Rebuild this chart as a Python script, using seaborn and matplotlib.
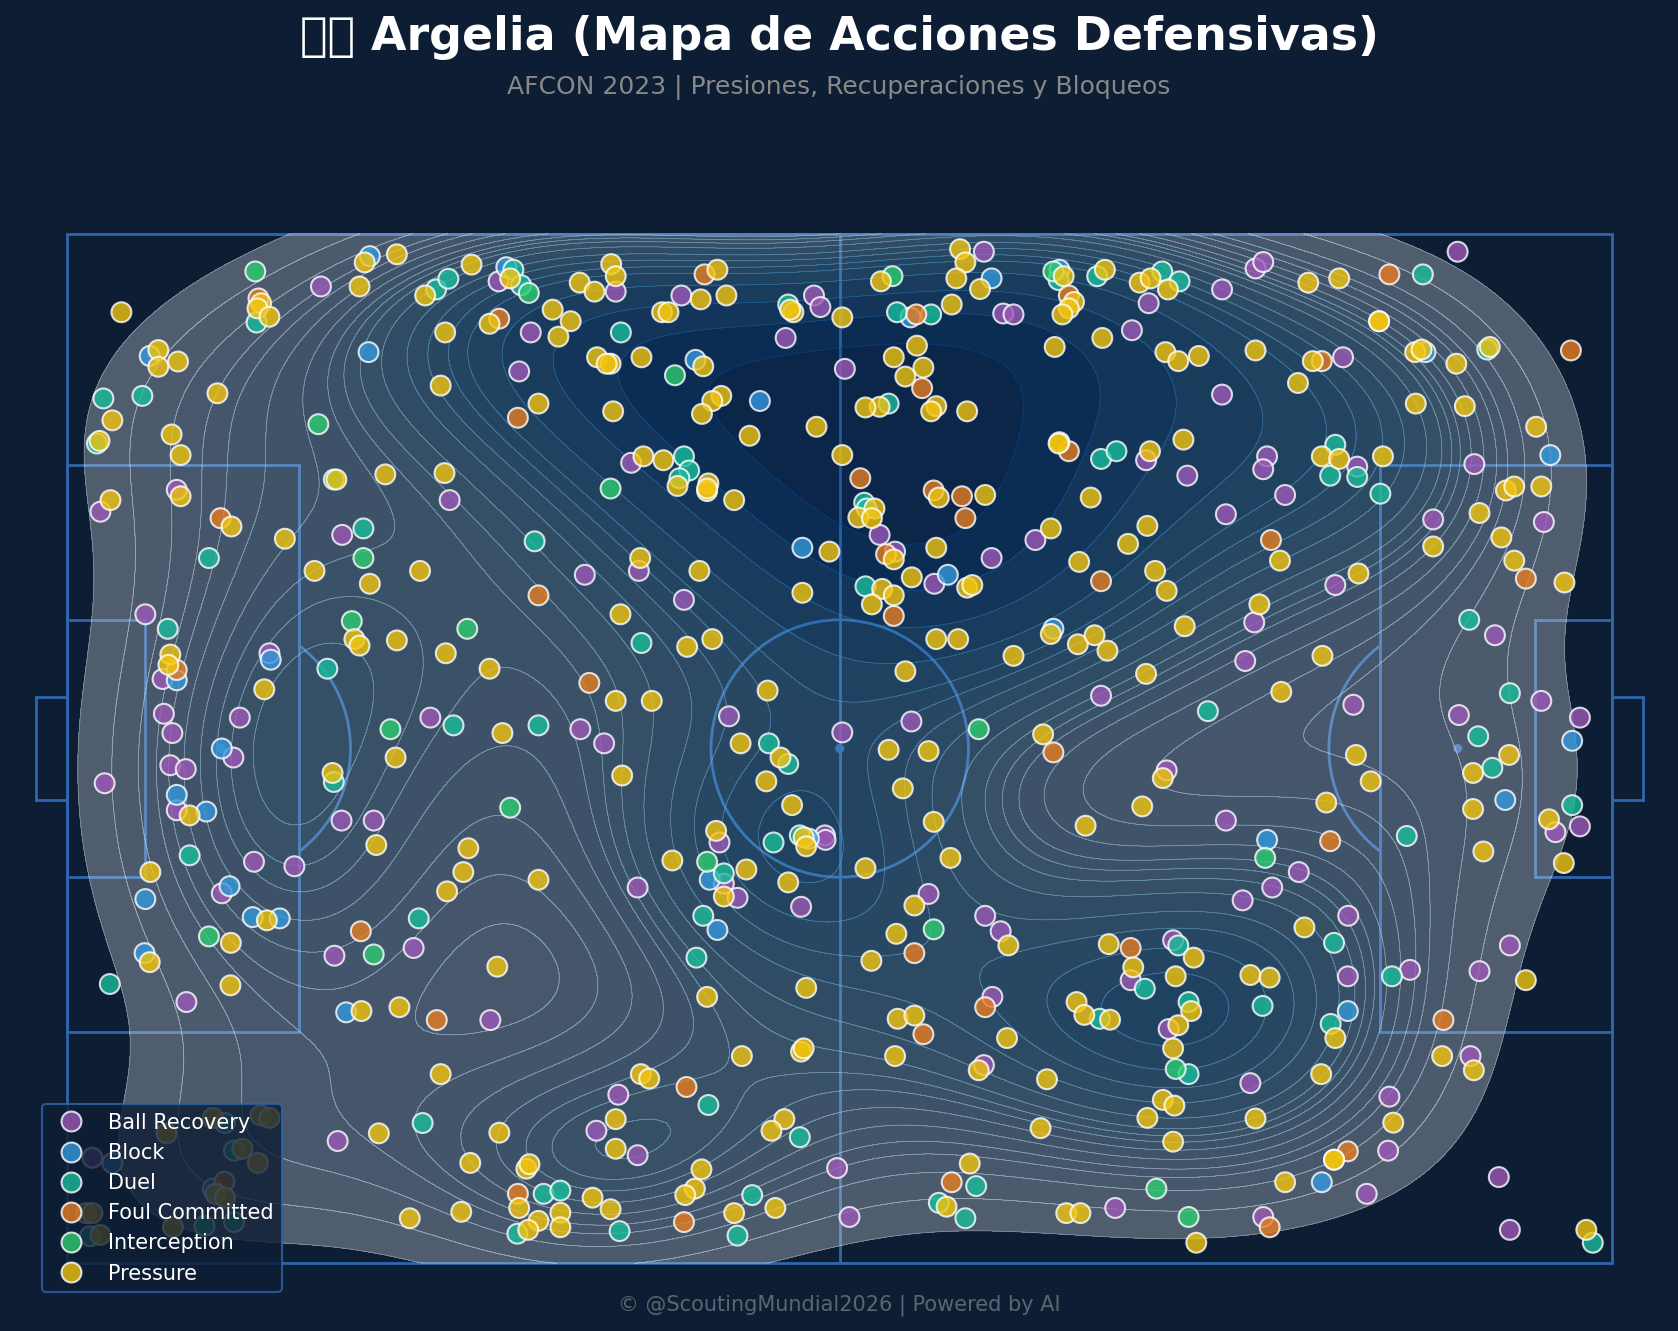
import pandas as pd
import matplotlib.pyplot as plt
from matplotlib.patches import Rectangle, Circle, Arc
import seaborn as sns

BG = "#0d1d33"
LINE = "#2f66ad"

event_types = ["Ball Recovery", "Block", "Duel", "Foul Committed", "Interception", "Pressure"]
event_colors = ["#9b59b6", "#3498db", "#1abc9c", "#e67e22", "#2ecc71", "#f1c40f"]

# pitch coordinates (120 x 80), y grows downwards
ball_recovery = [
    (19.7,4.1),(2.57,21.6),(8.5,19.9),(29.7,20.7),(21.35,23.4),(33.5,3.7),(36.0,7.67),(35.1,10.7),(42.6,4.5),
    (44.4,26.2),(40.2,26.5),(47.7,4.8),(58.0,4.8),(58.5,5.7),(55.8,8.1),(60.4,10.5),(43.8,17.8),(71.2,1.4),
    (72.7,6.2),(73.5,6.27),(63.1,23.4),(64.3,24.7),(71.8,25.2),(67.35,27.2),(82.7,7.5),(89.7,4.33),(89.7,12.5),
    (84.0,5.4),(92.3,2.7),(92.9,2.2),(83.8,17.6),(87.0,18.8),(90.0,21.8),(75.2,23.8),(93.2,17.3),(92.9,18.3),
    (108.0,1.4),(99.1,9.6),(100.2,18.1),(109.3,17.9),(94.6,20.3),(114.7,22.4),(106.1,22.2),(98.5,27.3),
    (6.06,29.57),(7.4,34.6),(15.7,32.6),(7.5,37.3),(8.16,38.8),(13.4,37.6),(12.9,40.7),(8.0,41.3),(9.2,41.6),
    (2.9,42.7),(8.5,44.8),(21.3,45.6),(23.8,45.6),(28.2,37.6),(14.5,48.8),(17.64,49.15),(12.0,51.25),(20.75,56.1),
    (26.9,55.5),(47.9,28.45),(51.4,37.5),(39.85,38.5),(41.7,39.6),(60.2,38.75),(50.66,47.3),(58.85,46.75),
    (58.9,47.1),(44.3,50.8),(51.0,50.5),(52.06,51.6),(57.0,52.3),(92.2,30.2),(91.5,33.2),(80.3,35.9),(65.57,37.9),
    (85.4,41.7),(90.0,45.6),(93.6,50.8),(91.3,51.8),(66.9,51.3),(71.3,53.0),(72.5,54.2),(85.9,54.9),(110.9,31.2),
    (114.5,36.3),(117.5,37.6),(99.9,36.6),(108.1,37.4),(115.6,46.5),(117.5,46.05),(95.66,49.6),(99.5,53.0),
    (112.06,55.3),(9.25,59.7),(21.0,70.5),(1.95,71.8),(32.86,61.1),(42.8,66.9),(41.1,69.7),(44.3,71.6),(59.8,72.6),
    (60.76,76.4),(82.6,58.0),(71.86,59.3),(85.55,61.8),(71.2,64.6),(81.4,75.7),(92.9,76.4),(91.9,66.0),(99.47,57.7),
    (104.3,57.2),(109.7,57.3),(109.0,63.9),(102.7,67.05),(102.6,71.25),(100.94,74.6),(111.2,73.3),(112.06,77.4),
]
block = [
    (6.4,9.5),(23.5,1.74),(23.4,9.2),(34.1,2.6),(48.8,9.8),(53.8,13.0),(57.1,24.4),(71.8,3.47),(65.5,6.5),(77.07,2.8),
    (68.4,26.5),(105.5,9.2),(115.2,17.2),(8.5,34.7),(15.8,33.1),(12.0,40.0),(8.5,43.6),(10.8,44.9),(6.06,51.7),
    (12.6,50.7),(14.4,53.1),(16.5,53.2),(6.0,55.9),(57.6,47.0),(49.9,50.2),(50.5,54.1),(76.6,30.7),(93.2,47.1),
    (116.9,39.4),(111.7,44.0),(21.66,60.5),(3.5,72.2),(11.3,74.2),(99.47,60.4),(97.45,73.7),
]
duel = [
    (14.7,6.9),(2.8,12.8),(5.83,12.6),(2.3,16.3),(28.65,4.33),(29.6,3.5),(20.7,19.1),(11.0,25.2),(23.0,22.9),
    (34.65,2.8),(35.25,4.0),(43.0,7.67),(56.0,5.5),(47.9,17.3),(48.3,18.4),(47.55,19.0),(36.3,23.9),(64.45,6.1),
    (67.1,6.27),(61.9,20.9),(62.1,21.35),(62.0,27.4),(63.8,13.2),(85.05,2.93),(86.4,3.7),(80.0,3.3),(77.0,3.6),
    (80.3,17.5),(81.5,16.9),(105.3,3.16),(110.3,9.0),(98.5,16.4),(98.1,18.8),(100.2,18.9),(102.0,20.2),(98.4,55.1),
    (7.8,30.7),(20.2,33.8),(20.7,42.6),(9.5,48.3),(27.3,53.2),(30.0,38.2),(44.6,31.8),(36.6,38.2),(54.5,39.6),
    (56.0,41.2),(54.86,47.3),(56.9,46.75),(51.0,49.7),(49.4,53.0),(88.6,37.1),(108.9,30.0),(112.06,35.7),
    (109.6,39.05),(110.7,41.5),(116.9,44.4),(104.05,46.8),(3.3,58.3),(27.6,69.1),(12.25,69.1),(12.95,71.25),
    (1.76,77.9),(10.65,77.1),(12.95,76.8),(48.87,56.25),(49.8,67.7),(56.9,70.2),(37.0,74.6),(38.3,74.35),(34.96,77.7),
    (42.9,77.5),(53.2,74.7),(52.06,77.85),(86.3,55.3),(83.7,58.66),(87.1,59.7),(80.2,61.0),(87.1,65.3),(70.6,74.0),
    (67.7,75.3),(69.76,76.5),(92.85,60.0),(98.14,61.4),(102.9,57.7),(118.5,78.4),
]
foul_committed = [
    (14.85,5.03),(11.9,22.1),(33.55,6.6),(35.0,14.3),(36.6,28.1),(49.5,3.16),(65.95,6.27),(66.4,12.0),(61.6,19.0),
    (67.3,19.95),(69.5,20.4),(69.76,22.1),(63.6,24.9),(77.8,4.8),(77.8,16.9),(80.3,27.0),(93.5,23.8),(102.7,3.16),
    (116.8,9.07),(97.45,9.9),(113.3,26.8),(8.5,33.9),(22.8,54.2),(40.55,34.9),(64.2,29.7),(76.6,40.3),(98.1,47.2),
    (65.8,55.9),(82.6,55.5),(28.7,61.1),(12.2,73.66),(48.1,66.3),(35.0,74.6),(47.9,76.8),(71.3,60.1),(66.5,62.2),
    (68.7,73.7),(93.4,77.2),(106.9,61.1),(99.47,71.3),
]
interception = [
    (14.6,2.93),(19.5,14.8),(23.0,25.2),(35.85,4.6),(42.2,19.8),(47.2,11.0),(64.1,3.3),(76.6,2.93),(22.1,30.1),
    (11.0,54.6),(23.8,56.0),(31.07,30.7),(25.1,38.5),(34.4,44.6),(49.7,48.8),(70.8,38.5),(67.3,54.05),(93.05,48.5),
    (86.1,64.9),(84.6,74.2),(87.1,76.4),
]
pressure = [
    (15.05,5.4),(14.77,5.8),(15.7,6.45),(4.2,6.1),(7.07,9.04),(7.07,10.34),(8.6,9.93),(11.66,12.4),(3.5,14.5),(2.5,16.1),
    (8.1,15.6),(8.8,17.2),(22.7,4.1),(23.1,2.23),(25.6,1.6),(29.0,11.8),(27.8,4.8),(29.35,7.67),(20.9,19.1),(24.7,18.7),
    (29.3,18.6),(3.35,20.7),(8.8,20.4),(12.75,22.75),(16.9,23.7),(19.2,26.2),(23.5,27.2),(27.4,26.2),(31.4,2.4),
    (34.4,3.47),(37.7,5.9),(39.1,6.8),(38.15,8.0),(32.8,7.0),(36.6,13.2),(39.8,3.8),(40.95,4.5),(42.25,2.36),(42.6,3.3),
    (41.15,9.6),(42.2,10.1),(41.9,10.1),(44.6,9.6),(49.4,10.3),(42.4,13.8),(50.8,12.6),(50.1,13.0),(49.3,14.0),(53.0,15.7),
    (58.2,15.0),(60.2,17.2),(50.5,2.8),(49.2,5.1),(51.2,4.8),(46.2,6.1),(46.7,6.1),(56.4,6.1),(56.15,5.9),(60.2,6.5),
    (44.75,17.3),(46.3,17.6),(47.4,19.6),(49.8,19.4),(49.7,20.0),(49.7,19.8),(51.8,20.7),(44.5,25.2),(49.1,26.2),(59.2,24.7),
    (69.35,1.2),(69.76,2.23),(69.06,3.47),(70.9,4.3),(63.2,3.7),(68.7,5.5),(66.0,8.7),(64.2,9.6),(66.5,10.4),(65.1,11.1),
    (63.1,13.45),(62.0,13.5),(67.5,13.4),(67.1,13.8),(69.9,13.8),(67.7,20.5),(71.3,20.3),(62.7,21.35),(61.45,22.05),
    (62.5,22.1),(64.2,25.3),(67.5,24.4),(65.6,26.7),(63.3,27.6),(64.2,28.1),(69.9,27.5),(70.3,27.3),(76.7,8.8),(80.4,8.1),
    (85.3,9.2),(86.3,9.9),(87.9,9.5),(92.3,9.07),(83.3,3.8),(84.15,3.47),(85.5,4.33),(80.6,2.8),(77.4,3.3),(78.2,5.3),
    (77.8,5.8),(77.3,6.27),(77.07,16.2),(77.0,16.3),(84.1,16.9),(86.7,16.0),(79.5,20.5),(83.9,22.7),(82.4,24.1),(76.4,22.9),
    (78.6,25.5),(84.5,26.2),(85.4,27.75),(96.4,3.8),(98.8,3.47),(101.9,6.8),(101.9,6.8),(104.7,9.2),(105.2,9.0),(107.9,10.1),
    (110.5,8.8),(96.75,9.9),(95.6,11.6),(104.75,13.2),(108.56,13.4),(114.1,15.0),(97.45,17.3),(98.8,17.5),(102.2,17.3),
    (111.75,19.95),(112.4,19.64),(114.5,19.64),(109.7,21.7),(106.1,24.3),(111.4,23.6),(112.4,25.4),(116.3,27.1),(94.2,25.4),
    (100.3,26.4),(8.0,32.7),(7.85,33.5),(15.3,35.4),(22.3,31.5),(22.7,32.0),(25.6,31.6),(29.4,32.6),(9.5,45.2),(20.6,41.9),
    (24.0,47.5),(25.5,40.7),(6.45,49.6),(15.5,53.35),(12.7,55.1),(29.5,51.1),(32.8,33.8),(42.97,29.57),(48.15,32.1),
    (50.1,31.5),(57.1,27.9),(42.6,36.3),(45.4,36.3),(54.4,35.5),(33.8,38.8),(43.1,42.1),(52.3,39.6),(55.4,40.7),(54.3,42.55),
    (56.3,44.4),(50.4,46.4),(57.2,46.9),(57.4,47.6),(31.15,47.75),(30.76,49.6),(36.6,50.2),(47.0,48.7),(51.0,51.5),
    (52.75,49.4),(56.0,50.4),(67.5,31.5),(69.2,31.5),(62.5,28.8),(76.4,31.1),(73.5,32.8),(78.5,31.9),(79.8,31.2),(80.8,32.4),
    (86.8,30.5),(83.8,34.2),(92.6,28.8),(65.1,34.0),(63.8,40.1),(66.9,40.2),(64.9,43.1),(67.3,45.7),(75.8,38.9),(85.1,42.3),
    (83.5,44.5),(79.1,46.0),(68.6,48.5),(62.0,49.3),(65.8,52.2),(64.4,54.4),(73.1,55.3),(80.9,55.2),(97.5,32.8),(94.3,35.6),
    (112.0,40.5),(109.2,41.9),(100.1,40.5),(101.25,42.55),(109.2,44.7),(115.1,45.5),(116.25,48.9),(97.8,44.2),(110.0,48.0),
    (96.1,53.9),(6.4,56.6),(12.67,58.4),(22.85,60.4),(25.8,60.1),(29.0,65.3),(24.2,69.9),(26.6,76.5),(11.3,68.7),(7.7,69.9),
    (15.0,68.5),(15.7,68.7),(13.6,71.1),(14.8,72.2),(11.5,74.6),(12.25,74.9),(1.45,76.1),(1.95,76.1),(2.57,77.8),(8.2,77.2),
    (33.4,56.95),(49.7,59.3),(57.4,58.6),(52.4,63.9),(57.0,63.55),(57.2,63.3),(44.55,65.3),(45.2,65.65),(42.6,68.8),
    (55.7,68.8),(54.7,69.7),(33.56,69.85),(42.6,71.1),(31.3,72.2),(35.66,72.65),(35.9,72.3),(49.26,72.7),(48.75,74.2),
    (48.0,74.7),(40.8,74.9),(35.1,75.7),(38.3,76.07),(42.2,75.8),(30.6,76.0),(36.6,76.7),(35.8,77.4),(38.3,77.2),(55.0,75.7),
    (51.8,76.1),(62.46,56.5),(87.5,56.25),(82.8,57.0),(86.1,57.7),(91.9,57.6),(93.4,57.8),(64.5,61.0),(65.8,60.75),(64.3,63.9),
    (73.0,62.5),(78.4,59.7),(79.0,60.7),(81.0,61.07),(87.3,60.4),(86.3,61.5),(85.9,63.3),(70.8,65.0),(76.1,65.7),(85.1,67.3),
    (86.0,67.75),(83.9,68.7),(75.6,69.5),(85.9,70.55),(70.1,72.25),(68.3,75.6),(77.6,76.1),(78.7,76.1),(87.7,78.4),(92.3,68.75),
    (98.5,62.5),(97.4,65.3),(113.3,58.0),(106.8,63.9),(109.26,65.0),(103.0,69.07),(98.4,71.95),(98.4,71.95),(94.6,73.7),(118.0,77.4),
]

rows = []
for name, points in zip(event_types, [ball_recovery, block, duel, foul_committed, interception, pressure]):
    for px, py in points:
        rows.append({"x": px, "y": py, "type": name})
df = pd.DataFrame(rows)

fig = plt.figure(figsize=(16.78, 13.31), facecolor=BG)
ax = fig.add_axes([0, 0, 1, 1])
ax.set_facecolor(BG)
ax.set_xlim(-5.23, 125.12)
ax.set_ylim(85.26, -18.16)
ax.axis("off")

# pitch
pitch_style = dict(fill=False, edgecolor=LINE, linewidth=2, zorder=1)
ax.add_patch(Rectangle((0, 0), 120, 80, **pitch_style))
ax.add_patch(Rectangle((0, 18), 18, 44, **pitch_style))
ax.add_patch(Rectangle((102, 18), 18, 44, **pitch_style))
ax.add_patch(Rectangle((0, 30), 6, 20, **pitch_style))
ax.add_patch(Rectangle((114, 30), 6, 20, **pitch_style))
ax.add_patch(Rectangle((-2.4, 36), 2.4, 8, **pitch_style))
ax.add_patch(Rectangle((120, 36), 2.4, 8, **pitch_style))
ax.plot([60, 60], [0, 80], color=LINE, lw=2, zorder=1)
ax.add_patch(Circle((60, 40), 10, **pitch_style))
ax.add_patch(Arc((12, 40), 20, 20, theta1=-53, theta2=53, edgecolor=LINE, lw=2, zorder=1))
ax.add_patch(Arc((108, 40), 20, 20, theta1=127, theta2=233, edgecolor=LINE, lw=2, zorder=1))
for sx in [12, 60, 108]:
    ax.add_patch(Circle((sx, 40), 0.3, color=LINE, zorder=1))

# density
sns.kdeplot(data=df, x="x", y="y", fill=True, cmap="Blues", alpha=0.3, levels=20, thresh=0.05, bw_adjust=1.03,
            clip=((0, 120), (0, 80)), zorder=2, ax=ax)
sns.kdeplot(data=df, x="x", y="y", fill=False, cmap="Blues", alpha=0.33, levels=20, thresh=0.05, bw_adjust=1.03,
            linewidths=0.6, clip=((0, 120), (0, 80)), zorder=2, ax=ax)

sns.scatterplot(data=df, x="x", y="y", hue="type", hue_order=event_types,
                palette=dict(zip(event_types, event_colors)), s=205, alpha=0.8,
                edgecolor="white", linewidth=1.5, zorder=3, ax=ax)
ax.set_xlim(-5.23, 125.12)
ax.set_ylim(85.26, -18.16)
ax.axis("off")

sns.move_legend(ax, "lower left", bbox_to_anchor=(42 / 1678, 39 / 1331), borderaxespad=0, title=None,
                frameon=True, facecolor=BG, edgecolor=LINE, framealpha=0.8, labelcolor="white",
                fontsize=15, labelspacing=0.49, handletextpad=0.75, borderpad=0.4)
ax.get_legend().set_zorder(5)
ax.get_legend().get_frame().set_linewidth(1.5)

fig.text(0.5, 0.972, "\U0001F1E9\U0001F1FF Argelia (Mapa de Acciones Defensivas)", color="white",
         fontsize=33, fontweight="bold", ha="center", va="center")
fig.text(0.5, 0.934, "AFCON 2023 | Presiones, Recuperaciones y Bloqueos", color="#888888",
         fontsize=18, ha="center", va="center")
fig.text(0.5, 0.0195, "\u00a9 @ScoutingMundial2026 | Powered by AI", color="#5c6670",
         fontsize=15, ha="center", va="center")

fig.savefig("out.png", dpi=100, facecolor=BG)
